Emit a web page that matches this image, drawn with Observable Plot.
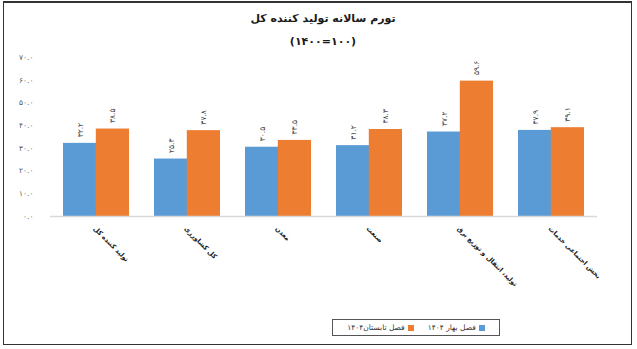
<!DOCTYPE html>
<html>
<head>
<meta charset="utf-8">
<script src="https://cdn.jsdelivr.net/npm/d3@7"></script>
<script src="https://cdn.jsdelivr.net/npm/@observablehq/plot@0.6"></script>
<style>
  html, body { margin: 0; padding: 0; background: #fff; }
  #wrap { position: relative; width: 637px; height: 349px; overflow: hidden; font-family: "DejaVu Sans", sans-serif; }
  #frame { position: absolute; left: 3px; top: 1px; width: 629px; height: 344px; border: 1px solid #333; border-top-width: 2px; box-sizing: border-box; pointer-events: none; }
  #title { position: absolute; left: 0; width: 646px; text-align: center; top: 12px; font-size: 11px; font-weight: bold; color: #1a1a1a; direction: rtl; }
  #subtitle { position: absolute; left: 0; width: 646px; text-align: center; top: 35px; font-size: 11px; font-weight: bold; color: #1a1a1a; }
  #legend { position: absolute; left: 332px; top: 319px; width: 168px; height: 17px; border: 1px solid #555; box-sizing: border-box; display: flex; direction: rtl; align-items: center; justify-content: center; gap: 14px; font-size: 7.5px; color: #333; }
  .item { display: flex; direction: rtl; align-items: center; gap: 3px; }
  .sw { width: 6px; height: 6px; display: inline-block; }
  svg { position: absolute; left: 0; top: 0; }
</style>
</head>
<body>
<div id="wrap">
  <div id="chart"></div>
  <div id="title">تورم سالانه تولید کننده کل</div>
  <div id="subtitle">(۱۴۰۰=۱۰۰)</div>
  <div id="legend"></div>
  <div id="frame"></div>
</div>
<script>
const categories = ["تولید کننده کل", "کل کشاورزی", "معدن", "صنعت", "تولید، انتقال و توزیع برق", "بخش اجتماعی خدمات"];
const seriesNames = ["فصل بهار ۱۴۰۴", "فصل تابستان۱۴۰۴"];
const spring1404 = [32.2, 25.3, 30.5, 31.2, 37.2, 37.9];
const summer1404 = [38.5, 37.8, 33.5, 38.3, 59.6, 39.1];
const yTicks = [0, 10, 20, 30, 40, 50, 60, 70];
const colors = ["#5B9BD5", "#ED7D31"];

const fa = s => String(s).replace(/\d/g, d => "۰۱۲۳۴۵۶۷۸۹"[d]);
const fmt = v => fa(v.toFixed(1));

const spring = categories.map((c, i) => ({cat: c, value: spring1404[i]}));
const summer = categories.map((c, i) => ({cat: c, value: summer1404[i]}));

const half = 32.8;

const chart = Plot.plot({
  width: 637,
  height: 349,
  marginTop: 57,
  marginBottom: 133,
  marginLeft: 50,
  marginRight: 40,
  style: {fontFamily: "DejaVu Sans, sans-serif", background: "transparent"},
  x: {domain: categories, paddingInner: 0.28, paddingOuter: 0.14, axis: null},
  y: {domain: [0, 70], axis: null},
  marks: [
    Plot.axisY({ticks: yTicks, tickSize: 0, tickPadding: 17, tickFormat: fmt, fontSize: 7.5, fill: "#595959", label: null}),
    Plot.barY(spring, {x: "cat", y: "value", fill: colors[0], insetRight: half}),
    Plot.barY(summer, {x: "cat", y: "value", fill: colors[1], insetLeft: half}),
    Plot.ruleY([0], {stroke: "#d9d9d9", strokeWidth: 1.5}),
    Plot.text(spring, {x: "cat", y: "value", text: d => fmt(d.value), rotate: -90, textAnchor: "start", dx: -half / 2, dy: -6, fontSize: 7.5, fill: "#404040"}),
    Plot.text(summer, {x: "cat", y: "value", text: d => fmt(d.value), rotate: -90, textAnchor: "start", dx: half / 2, dy: -6, fontSize: 7.5, fill: "#404040"}),
    Plot.text(categories, {x: d => d, y: () => 0, text: d => d, rotate: 45, textAnchor: "start", dy: 11, dx: -2, fontSize: 6.6, fontWeight: "bold", fill: "#1a1a1a"})
  ]
});
document.getElementById("chart").appendChild(chart);

const legend = document.getElementById("legend");
[0, 1].forEach(i => {
  const it = document.createElement("div");
  it.className = "item";
  const sw = document.createElement("span");
  sw.className = "sw";
  sw.style.background = colors[i];
  const t = document.createElement("span");
  t.textContent = seriesNames[i];
  it.appendChild(sw);
  it.appendChild(t);
  legend.appendChild(it);
});
</script>
</body>
</html>
